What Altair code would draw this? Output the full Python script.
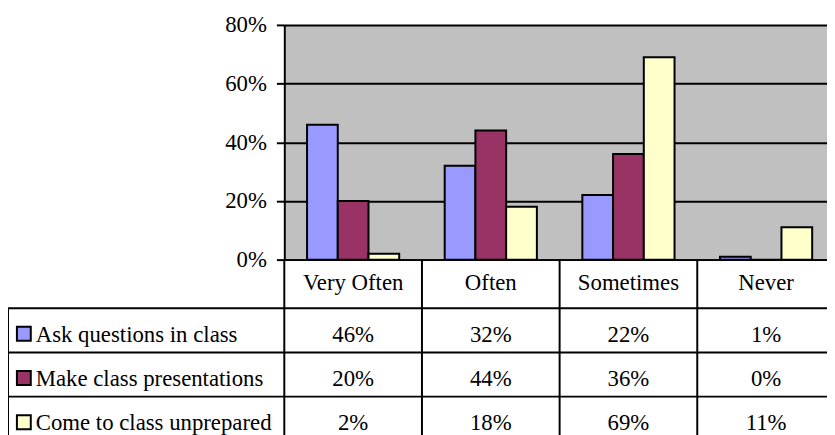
import altair as alt
import pandas as pd

categories = ["Very Often", "Often", "Sometimes", "Never"]
series = ["Ask questions in class", "Make class presentations", "Come to class unprepared"]
ask_questions = [46, 32, 22, 1]
make_presentations = [20, 44, 36, 0]
come_unprepared = [2, 18, 69, 11]
colors = ["#9999FF", "#993366", "#FFFFCC"]
y_ticks = [0, 0.2, 0.4, 0.6, 0.8]

rows = []
for s, vals in zip(series, [ask_questions, make_presentations, come_unprepared]):
    for c, v in zip(categories, vals):
        rows.append({"category": c, "series": s, "value": v / 100.0, "label": f"{v}%"})
df = pd.DataFrame(rows)
series_df = pd.DataFrame({"series": series})
cat_df = pd.DataFrame({"category": categories})

FONT = "Liberation Serif, Times New Roman, serif"
FS = 23

xscale = alt.Scale(domain=categories, range=[0, 556], paddingInner=0, paddingOuter=0)
fillscale = alt.Scale(domain=series, range=colors)
rowscale = alt.Scale(type="band", domain=series, range=[286, 420], paddingInner=0, paddingOuter=0)

xaxis = alt.Axis(
    title=None, labelAngle=0, ticks=False, domain=True, domainColor="black",
    domainWidth=2, labelPadding=30, labelBaseline="alphabetic",
    labelFont=FONT, labelFontSize=FS, labelColor="black", grid=False,
)

bars = alt.Chart(df).mark_bar(stroke="black", strokeWidth=2).encode(
    x=alt.X("category:N", scale=xscale, sort=categories, axis=xaxis),
    xOffset=alt.XOffset("series:N", sort=series,
                        scale=alt.Scale(domain=series, paddingOuter=0.74, paddingInner=0)),
    y=alt.Y(
        "value:Q", scale=alt.Scale(domain=[0, 0.8], nice=False),
        axis=alt.Axis(
            title=None, values=y_ticks, format=".0%", grid=True, gridColor="black",
            gridWidth=2, gridOpacity=1, domainColor="black", domainWidth=2,
            tickColor="black", tickWidth=2, tickSize=8, labelPadding=10,
            labelFont=FONT, labelFontSize=FS, labelColor="black",
        ),
    ),
    fill=alt.Fill("series:N", scale=fillscale, legend=None),
)

vrules = alt.Chart(cat_df).mark_rule(color="black", strokeWidth=2).encode(
    x=alt.X("category:N", scale=xscale, sort=categories, bandPosition=0, axis=xaxis),
    y=alt.value(237),
    y2=alt.value(430),
)

left_border = alt.Chart(series_df).mark_rule(color="black", strokeWidth=2).encode(
    x=alt.value(-279),
    y=alt.value(286),
    y2=alt.value(430),
)

hrules = alt.Chart(series_df).mark_rule(color="black", strokeWidth=2).encode(
    y=alt.Y("series:N", scale=rowscale, sort=series, bandPosition=0, axis=None),
    x=alt.value(-279),
    x2=alt.value(556),
)

values_text = alt.Chart(df).mark_text(
    font=FONT, fontSize=FS, color="black", baseline="alphabetic", dy=11.5
).encode(
    x=alt.X("category:N", scale=xscale, sort=categories, axis=xaxis),
    y=alt.Y("series:N", scale=rowscale, sort=series, axis=None),
    text="label:N",
)

row_labels = alt.Chart(series_df).mark_text(
    font=FONT, fontSize=FS, color="black", baseline="alphabetic", align="left", dy=11.5
).encode(
    x=alt.value(-251),
    y=alt.Y("series:N", scale=rowscale, sort=series, axis=None),
    text="series:N",
)

swatches = alt.Chart(series_df).mark_square(
    size=196, stroke="black", strokeWidth=2, filled=True, opacity=1, yOffset=3.5
).encode(
    x=alt.value(-263),
    y=alt.Y("series:N", scale=rowscale, sort=series, axis=None),
    fill=alt.Fill("series:N", scale=fillscale, legend=None),
)

table = alt.layer(hrules, left_border, values_text, row_labels, swatches)

chart = alt.layer(bars, vrules, table).resolve_scale(y="independent").properties(
    width=548,
    height=237,
    padding={"left": 279, "top": 15, "right": 0, "bottom": 175},
    autosize=alt.AutoSizeParams(type="none"),
    background="white",
).configure_view(fill="#C0C0C0", stroke=None)

chart.save("out.html", embed_options={"renderer": "svg", "actions": False})
